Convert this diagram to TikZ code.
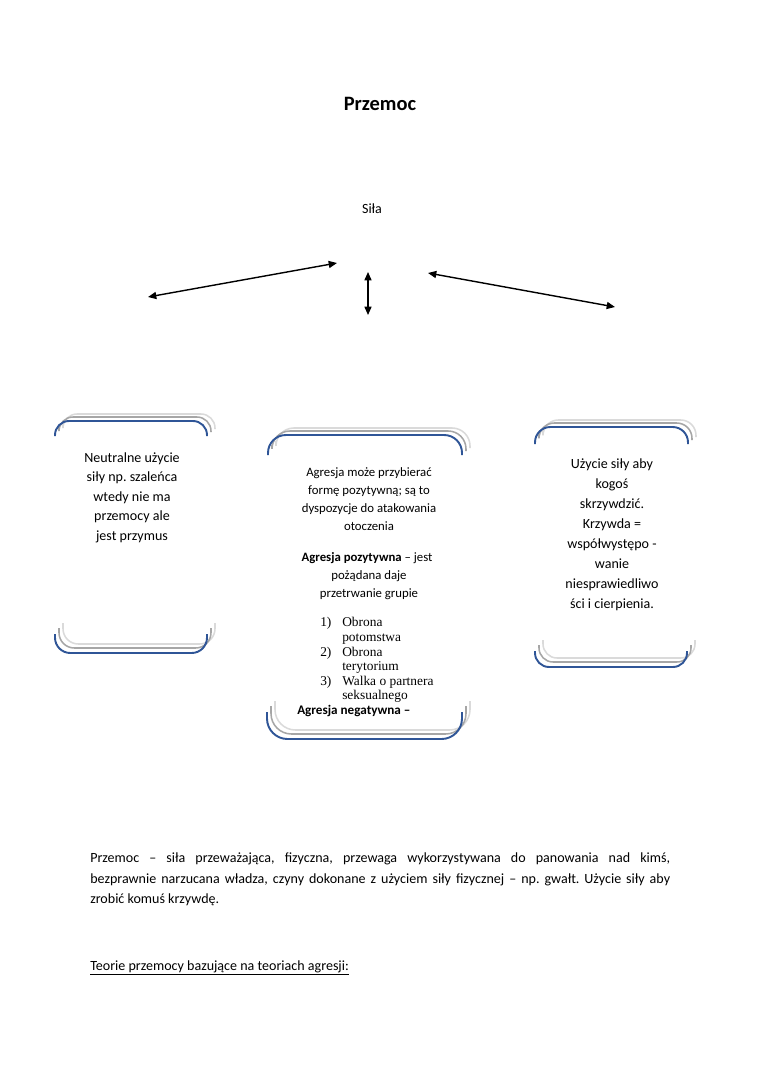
\documentclass[tikz,border=0pt]{standalone}
\usepackage{fontspec}
\setmainfont{Carlito}
\newfontfamily\seriffont{Liberation Serif}
\usetikzlibrary{arrows.meta}
\frenchspacing
\definecolor{frameblue}{HTML}{2F5597}
\definecolor{shadegray}{HTML}{A6A6A6}
\definecolor{shadelight}{HTML}{DADADA}
\tikzset{
  txt/.style={inner sep=0pt, font=\fontsize{11}{13}\selectfont, anchor=base},
  midtxt/.style={inner sep=0pt, font=\fontsize{10}{12}\selectfont, anchor=base},
  listtxt/.style={inner sep=0pt, font=\seriffont\fontsize{10.5}{12}\selectfont, anchor=base west},
  dblarrow/.style={line width=1.1pt, {Triangle[length=6.5pt,width=5.5pt]}-{Triangle[length=6.5pt,width=5.5pt]}},
  blueline/.style={draw=frameblue, line width=1.5pt},
  grayline/.style={draw=shadegray, line width=1.2pt},
  lightline/.style={draw=shadelight, line width=1.2pt}
}
% top bracket: x1, x2, ytop, yend, radius(pt)
\newcommand{\mytopframe}[5]{%
  \draw[lightline, rounded corners=#5] (#1+8,#4-14) |- ({(#1+#2)/2+8},#3-7) -| (#2+8,#4-7);
  \draw[grayline, rounded corners=#5] (#1+4,#4-10) |- ({(#1+#2)/2+4},#3-4) -| (#2+4,#4-4);
  \draw[blueline, rounded corners=#5] (#1,#4) |- ({(#1+#2)/2},#3) -| (#2,#4);
}
% bottom bracket: x1, x2, ybottom, yend, radius(pt)
\newcommand{\mybottomframe}[5]{%
  \draw[lightline, rounded corners=#5] (#1+8,#4-11) |- ({(#1+#2)/2+8},#3-9) -| (#2+8,#4-11);
  \draw[grayline, rounded corners=#5] (#1+4,#4-6) |- ({(#1+#2)/2+4},#3-5) -| (#2+4,#4-6);
  \draw[blueline, rounded corners=#5] (#1,#4) |- ({(#1+#2)/2},#3) -| (#2,#4);
}
\begin{document}
\begin{tikzpicture}[x=0.7829pt, y=-0.7829pt]
\useasboundingbox (0,0) rectangle (760,1075);
\fill[white] (0,0) rectangle (760,1075);

% title
\node[txt, font=\bfseries\fontsize{16}{18}\selectfont] (title) at (380,110) {Przemoc};
\node[txt] (sila) at (372,213) {Siła};

% arrows
\coordinate (a1s) at (148,297); \coordinate (a1e) at (337,263);
\coordinate (a2s) at (368,272); \coordinate (a2e) at (368,315);
\coordinate (a3s) at (428,273); \coordinate (a3e) at (615,307);
\draw[dblarrow] (a1s) -- (a1e);
\draw[dblarrow] (a2s) -- (a2e);
\draw[dblarrow] (a3s) -- (a3e);

% frames
\mytopframe{55}{207}{421}{436}{11pt}
\mybottomframe{55}{207}{653}{634}{12pt}
\mytopframe{268}{462}{435}{455}{14pt}
\mybottomframe{267}{462}{739}{712}{16pt}
\mytopframe{535}{688}{427}{444}{12pt}
\mybottomframe{535}{687}{667}{651}{11pt}

% left box text
\foreach \t [count=\i from 0] in {{Neutralne użycie},{siły np. szaleńca},{wtedy nie ma},{przemocy ale},{jest przymus}}
  \node[txt] (left\i) at (132,{462+19.6*\i}) {\t};

% right box text
\foreach \t [count=\i from 0] in {{Użycie siły aby},{kogoś},{skrzywdzić.},{Krzywda =},{współwystępo -},{wanie},{niesprawiedliwo},{ści i cierpienia.}}
  \node[txt] (right\i) at (612,{468+20.1*\i}) {\t};

% middle box text
\foreach \t [count=\i from 0] in {{Agresja może przybierać},{formę pozytywną; są to},{dyspozycje do atakowania},{otoczenia}}
  \node[midtxt] (mida\i) at (369,{476+18.3*\i}) {\t};
\node[midtxt] (midb0) at (367,561) {\textbf{Agresja pozytywna} – jest};
\node[midtxt] (midb1) at (369,579) {pożądana daje};
\node[midtxt] (midb2) at (369,597) {przetrwanie grupie};

\node[listtxt] (n1) at (320,626) {1)};
\node[listtxt] (i1a) at (342,626) {Obrona};
\node[listtxt] (i1b) at (342,641) {potomstwa};
\node[listtxt] (n2) at (320,656) {2)};
\node[listtxt] (i2a) at (342,656) {Obrona};
\node[listtxt] (i2b) at (342,670) {terytorium};
\node[listtxt] (n3) at (320,685) {3)};
\node[listtxt] (i3a) at (342,685) {Walka o partnera};
\node[listtxt] (i3b) at (342,699) {seksualnego};
\node[midtxt, anchor=base west, font=\fontsize{10.3}{12}\selectfont] (midc) at (297,714) {\textbf{Agresja negatywna –}};

% bottom paragraph
\node[txt, anchor=base west] (p1) at (90,862) {\makebox[454pt][s]{Przemoc – siła przeważająca, fizyczna, przewaga wykorzystywana do panowania nad kimś,}};
\node[txt, anchor=base west] (p2) at (90,883) {\makebox[454pt][s]{bezprawnie narzucana władza, czyny dokonane z użyciem siły fizycznej – np. gwałt. Użycie siły aby}};
\node[txt, anchor=base west] (p3) at (90,903) {zrobić komuś krzywdę.};
\node[txt, anchor=base west] (head) at (90,970) {\underline{Teorie przemocy bazujące na teoriach agresji:}};
\end{tikzpicture}
\end{document}
